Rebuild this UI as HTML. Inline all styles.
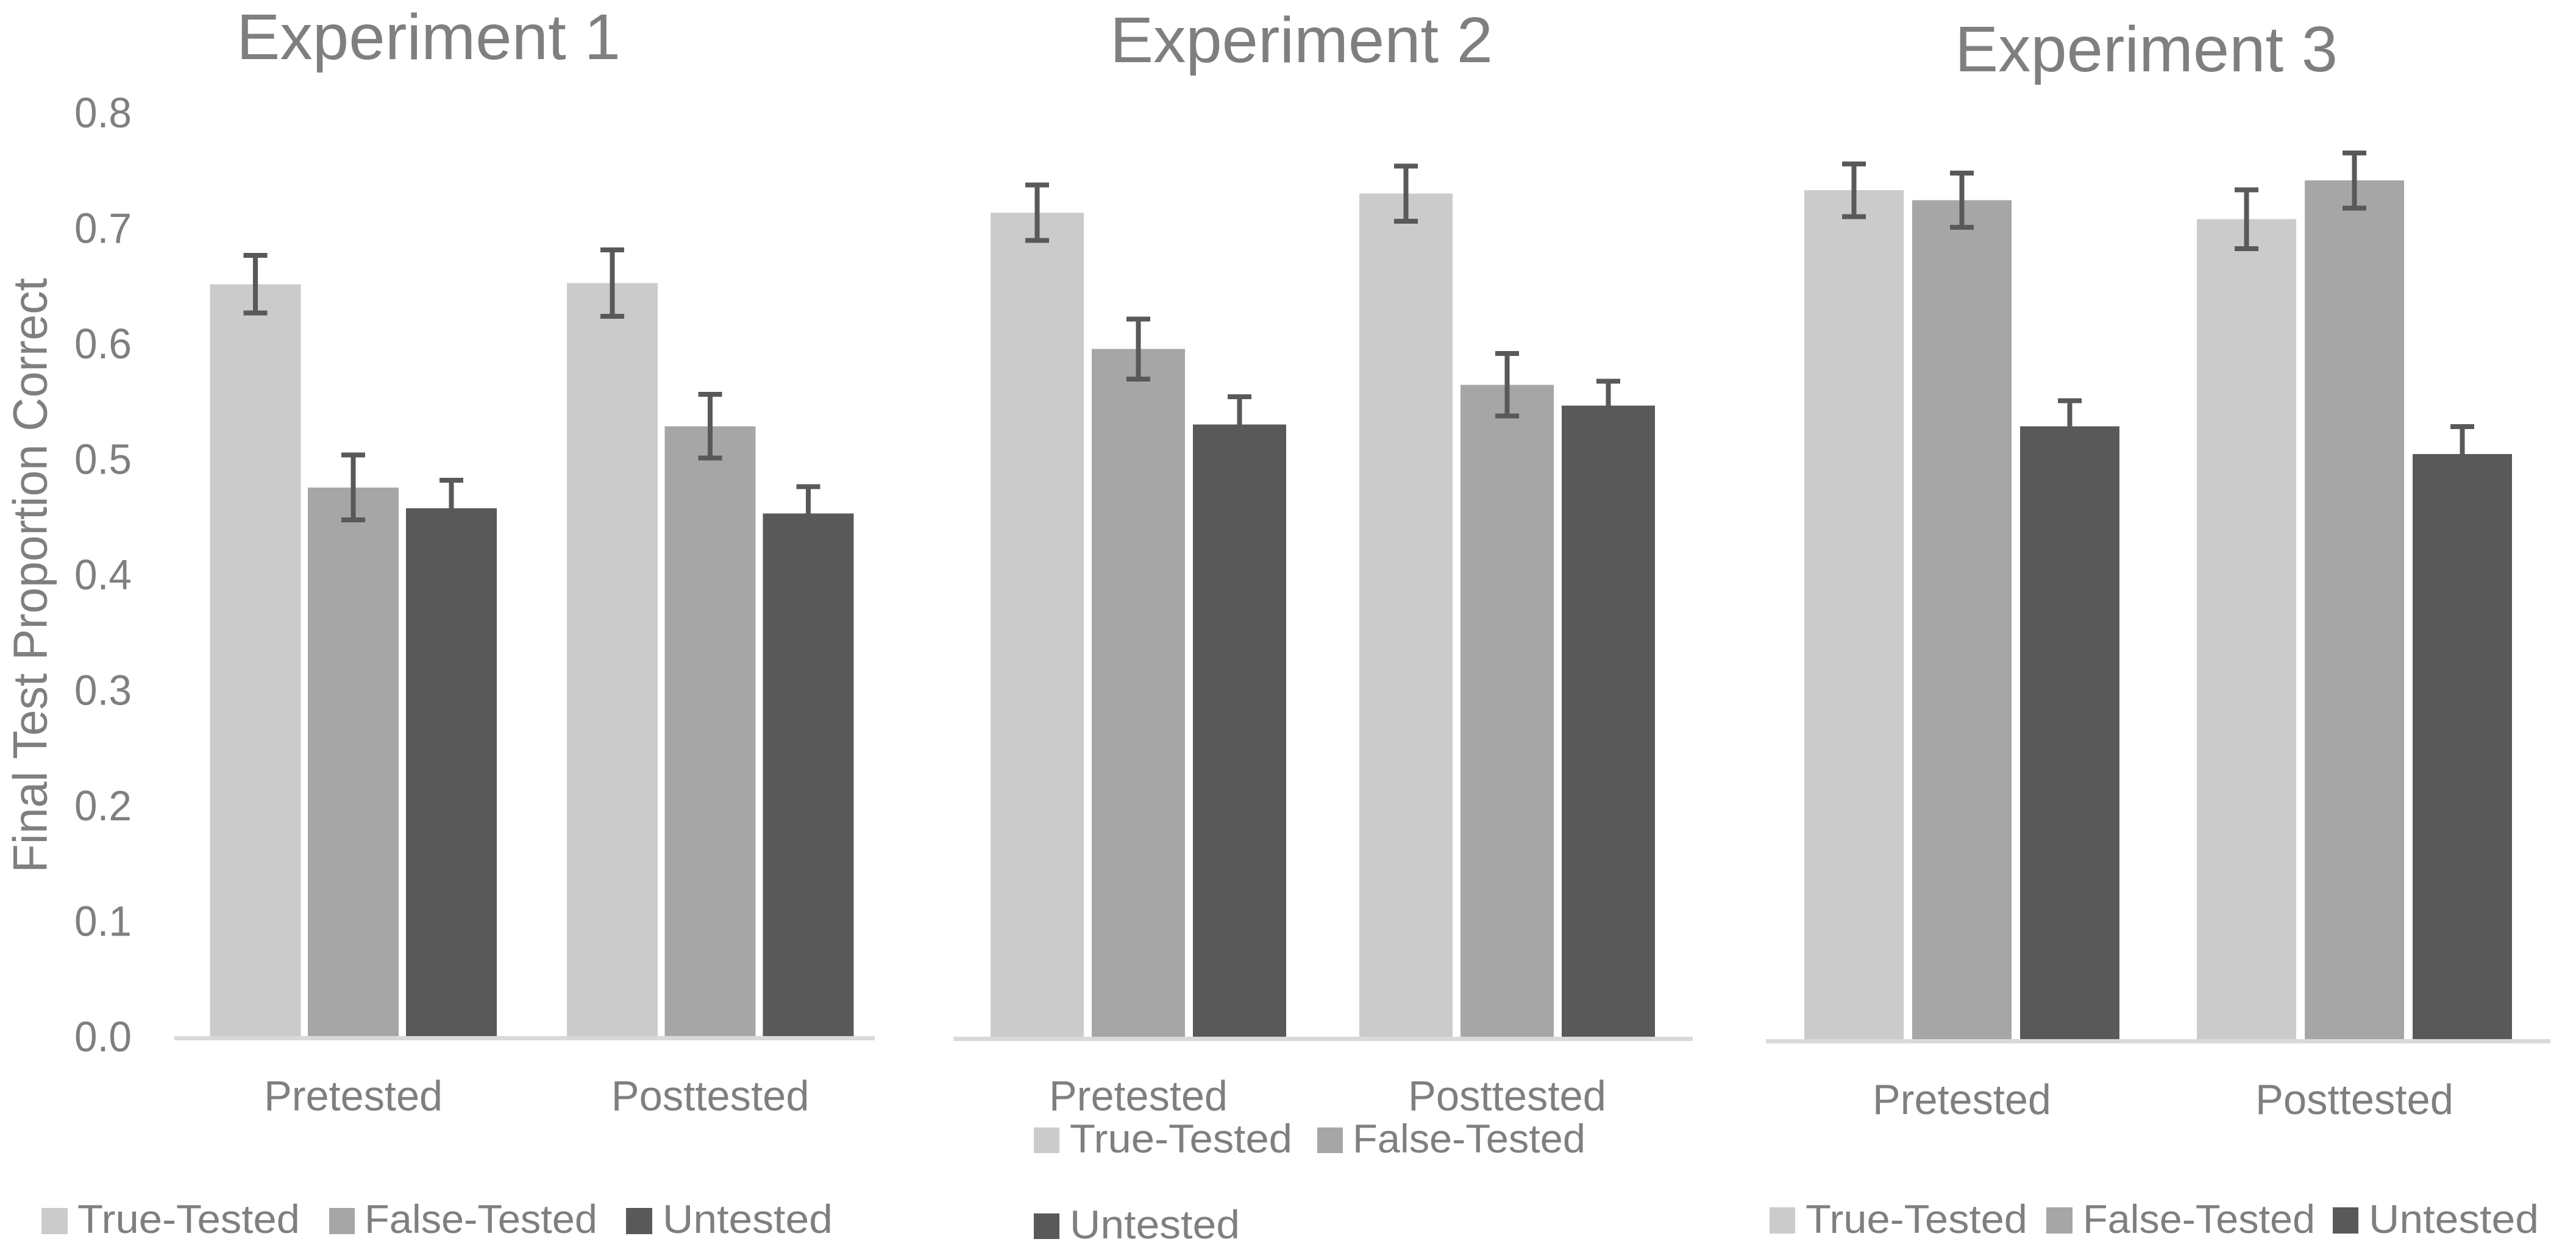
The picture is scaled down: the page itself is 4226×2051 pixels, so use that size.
<!DOCTYPE html>
<html lang="en">
<head>
<meta charset="utf-8">
<title>Final Test Proportion Correct by Experiment</title>
<style>
html,body{margin:0;padding:0;background:#fff;}
svg{display:block;}
text{font-family:"Liberation Sans",sans-serif;fill:#7f7f7f;}
</style>
</head>
<body>
<svg id="chart" xmlns="http://www.w3.org/2000/svg" width="4226" height="2051" viewBox="0 0 4226 2051">
  <rect x="0" y="0" width="4226" height="2051" fill="#ffffff"/>
  <text x="388" y="97" font-size="106" textLength="630" lengthAdjust="spacingAndGlyphs">Experiment 1</text>
  <text x="1821" y="102" font-size="106" textLength="628" lengthAdjust="spacingAndGlyphs">Experiment 2</text>
  <text x="3207" y="117" font-size="106" textLength="628" lengthAdjust="spacingAndGlyphs">Experiment 3</text>
  <text transform="translate(76.5 1432) rotate(-90)" x="0" y="0" font-size="79" textLength="976" lengthAdjust="spacingAndGlyphs">Final Test Proportion Correct</text>
  <g id="plots"></g>

  <g>
    <rect x="68" y="1982" width="43" height="43" fill="#cbcbcb"/>
    <text x="127" y="2023" font-size="66" textLength="365" lengthAdjust="spacingAndGlyphs">True-Tested</text>
    <rect x="540" y="1982" width="42" height="43" fill="#a6a6a6"/>
    <text x="598" y="2023" font-size="66" textLength="382" lengthAdjust="spacingAndGlyphs">False-Tested</text>
    <rect x="1027" y="1982" width="43" height="43" fill="#595959"/>
    <text x="1087" y="2023" font-size="66" textLength="279" lengthAdjust="spacingAndGlyphs">Untested</text>
  </g>
  <g>
    <rect x="1696" y="1850" width="42" height="42" fill="#cbcbcb"/>
    <text x="1755" y="1891" font-size="66" textLength="365" lengthAdjust="spacingAndGlyphs">True-Tested</text>
    <rect x="2161" y="1850" width="42" height="42" fill="#a6a6a6"/>
    <text x="2219" y="1891" font-size="66" textLength="382" lengthAdjust="spacingAndGlyphs">False-Tested</text>
    <rect x="1696" y="1991" width="42" height="42" fill="#595959"/>
    <text x="1755" y="2032" font-size="66" textLength="279" lengthAdjust="spacingAndGlyphs">Untested</text>
  </g>
  <g>
    <rect x="2903" y="1981" width="42" height="43" fill="#cbcbcb"/>
    <text x="2962" y="2023" font-size="66" textLength="364" lengthAdjust="spacingAndGlyphs">True-Tested</text>
    <rect x="3357" y="1981" width="43" height="43" fill="#a6a6a6"/>
    <text x="3417" y="2023" font-size="66" textLength="381" lengthAdjust="spacingAndGlyphs">False-Tested</text>
    <rect x="3827" y="1981" width="42" height="43" fill="#595959"/>
    <text x="3886" y="2023" font-size="66" textLength="279" lengthAdjust="spacingAndGlyphs">Untested</text>
  </g>
</svg>
<script>
const categories = ['Pretested', 'Posttested'];
const seriesNames = ['true-tested', 'false-tested', 'untested'];
const tickLabels = ['0.0', '0.1', '0.2', '0.3', '0.4', '0.5', '0.6', '0.7', '0.8'];

const exp1TrueTested = [0.651, 0.652];
const exp1FalseTested = [0.475, 0.528];
const exp1Untested = [0.457, 0.4525];
const exp1TrueErr = [0.0249, 0.0288];
const exp1FalseErr = [0.0281, 0.0276];
const exp1UntestedErr = [0.0243, 0.0232];

const exp2TrueTested = [0.7135, 0.730];
const exp2FalseTested = [0.5955, 0.5645];
const exp2Untested = [0.530, 0.5464];
const exp2TrueErr = [0.024, 0.0238];
const exp2FalseErr = [0.026, 0.0271];
const exp2UntestedErr = [0.0242, 0.0211];

const exp3TrueTested = [0.735, 0.7099];
const exp3FalseTested = [0.7264, 0.7435];
const exp3Untested = [0.5306, 0.5067];
const exp3TrueErr = [0.0229, 0.0254];
const exp3FalseErr = [0.0234, 0.0239];
const exp3UntestedErr = [0.0222, 0.0236];

const SVG_NS = 'http://www.w3.org/2000/svg';
const UNIT_PX = 1895;
const BAR_COLORS = ['#cbcbcb', '#a6a6a6', '#595959'];
const ERR_COLOR = '#595959';
const LABEL_WIDTHS = [293, 325];

const panels = [
  { id: 'experiment-1', values: [exp1TrueTested, exp1FalseTested, exp1Untested], errs: [exp1TrueErr, exp1FalseErr, exp1UntestedErr],
    base: 1700, axisX0: 286, axisX1: 1435, start: 344.4, groupStep: 585.6, barStep: 160.7, barW: 149, labelY: 1822 },
  { id: 'experiment-2', values: [exp2TrueTested, exp2FalseTested, exp2Untested], errs: [exp2TrueErr, exp2FalseErr, exp2UntestedErr],
    base: 1701, axisX0: 1564, axisX1: 2777, start: 1625, groupStep: 605, barStep: 166, barW: 153, labelY: 1822 },
  { id: 'experiment-3', values: [exp3TrueTested, exp3FalseTested, exp3Untested], errs: [exp3TrueErr, exp3FalseErr, exp3UntestedErr],
    base: 1705, axisX0: 2897, axisX1: 4184, start: 2960, groupStep: 644, barStep: 177, barW: 163, labelY: 1828 }
];

function yScale(panel, v) { return panel.base - v * UNIT_PX; }
function xBar(panel, g, s) { return panel.start + g * panel.groupStep + s * panel.barStep; }

function make(tag, attrs, parent) {
  const el = document.createElementNS(SVG_NS, tag);
  for (const k in attrs) el.setAttribute(k, attrs[k]);
  parent.appendChild(el);
  return el;
}

const plots = document.getElementById('plots');

// y-axis tick labels (shared axis drawn once beside the first panel)
const tickGroup = make('g', {}, plots);


tickLabels.forEach(function (label) {
  const t = make('text', { x: 216, y: 1725 - parseFloat(label) * UNIT_PX, 'font-size': 70, 'text-anchor': 'end', textLength: 94, lengthAdjust: 'spacingAndGlyphs' }, tickGroup);
  
  
  t.textContent = label;
});

panels.forEach(function (panel) {
  const g = make('g', {}, plots);
  
  

  categories.forEach(function (cat, ci) {
    panel.values.forEach(function (series, si) {
      const v = series[ci];
      const x = xBar(panel, ci, si);
      const top = yScale(panel, v);
      const bar = make('rect', { x: x, y: top, width: panel.barW, height: panel.base - top, fill: BAR_COLORS[si], 'shape-rendering': 'crispEdges' }, g);
      
      
    });
  });

  categories.forEach(function (cat, ci) {
    panel.values.forEach(function (series, si) {
      const v = series[ci];
      const e = panel.errs[si][ci];
      const cx = xBar(panel, ci, si) + panel.barW / 2;
      const yHi = yScale(panel, v + e);
      const yLo = yScale(panel, v - e);
      const err = make('path', {
        d: 'M' + (cx - 19.5) + ' ' + yHi + 'H' + (cx + 19.5) + 'M' + cx + ' ' + yHi + 'V' + yLo + 'M' + (cx - 19.5) + ' ' + yLo + 'H' + (cx + 19.5),
        fill: 'none', stroke: ERR_COLOR, 'stroke-width': 8, 'shape-rendering': 'crispEdges'
      }, g);
      
      
    });
  });

  const axis = make('rect', { x: panel.axisX0, y: panel.base, width: panel.axisX1 - panel.axisX0, height: 7, fill: '#d9d9d9', 'shape-rendering': 'crispEdges' }, g);
  
  

  categories.forEach(function (cat, ci) {
    const center = xBar(panel, ci, 1) + panel.barW / 2;
    const t = make('text', { x: center, y: panel.labelY, 'font-size': 70, 'text-anchor': 'middle', textLength: LABEL_WIDTHS[ci], lengthAdjust: 'spacingAndGlyphs' }, g);
    
    
    t.textContent = cat;
  });
});
</script>
</body>
</html>
